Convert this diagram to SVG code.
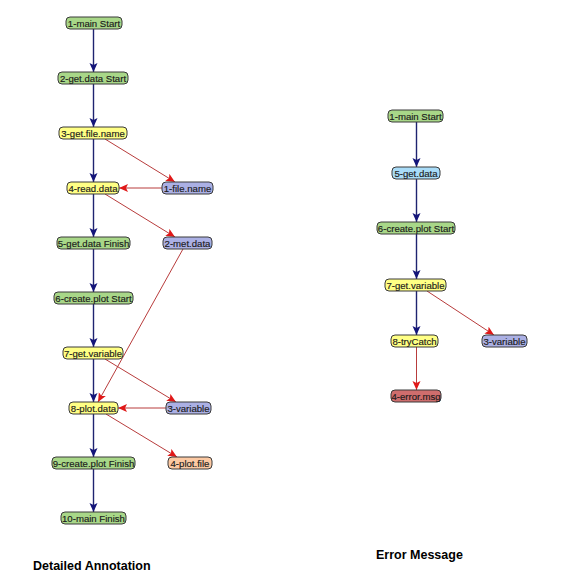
<svg xmlns="http://www.w3.org/2000/svg" width="563" height="582" viewBox="0 0 563 582">
<defs>
<marker id="ab" markerUnits="userSpaceOnUse" markerWidth="10" markerHeight="10" refX="9" refY="4.5" orient="auto">
<path d="M0,0.5 L9,4.5 L0,8.5 L2,4.5 z" fill="#14157a"/>
</marker>
<marker id="ar" markerUnits="userSpaceOnUse" markerWidth="10" markerHeight="10" refX="9" refY="4" orient="auto">
<path d="M0,0 L9,4 L0,8 L2,4 z" fill="#e01818"/>
</marker>
</defs>
<style>
.n rect{stroke:#3a3a3a;stroke-width:1}
.n text{font-family:"Liberation Sans",Arial,sans-serif;font-size:9.6px;fill:#1a1a1a;stroke:#1a1a1a;stroke-width:0.15;text-anchor:middle}
.g rect{fill:#a8d788}
.y rect{fill:#ffff84}
.b rect{fill:#abb0e4}
.lb rect{fill:#a9dcf8}
.o rect{fill:#fcc9a3}
.r rect{fill:#cf6d6d}
.eb{stroke:#1e2370;stroke-width:1.4;fill:none;marker-end:url(#ab)}
.er{stroke:#b83c3c;stroke-width:1;fill:none;marker-end:url(#ar)}
.cap{font-family:"Liberation Sans",Arial,sans-serif;font-size:12.5px;font-weight:bold;fill:#000}
</style>
<rect width="563" height="582" fill="#fff"/>
<g id="connectors">
<line class="eb" x1="93.5" y1="29" x2="93.5" y2="72"/>
<line class="eb" x1="93.5" y1="84" x2="93.5" y2="127"/>
<line class="eb" x1="93.5" y1="139" x2="93.5" y2="182"/>
<line class="eb" x1="93.5" y1="194" x2="93.5" y2="237"/>
<line class="eb" x1="93.5" y1="249" x2="93.5" y2="292"/>
<line class="eb" x1="93.5" y1="304" x2="93.5" y2="347"/>
<line class="eb" x1="93.5" y1="359" x2="93.5" y2="402"/>
<line class="eb" x1="93.5" y1="414" x2="93.5" y2="457"/>
<line class="eb" x1="93.5" y1="469" x2="93.5" y2="512"/>
<line class="er" x1="105" y1="139" x2="175" y2="182"/>
<line class="er" x1="162" y1="188" x2="119" y2="188"/>
<line class="er" x1="105" y1="194" x2="175" y2="237"/>
<line class="er" x1="183" y1="249" x2="98" y2="402"/>
<line class="er" x1="105" y1="359" x2="176" y2="402"/>
<line class="er" x1="166" y1="408" x2="118" y2="408"/>
<line class="er" x1="106" y1="414" x2="177" y2="457"/>
<line class="eb" x1="416.5" y1="122" x2="416.5" y2="167"/>
<line class="eb" x1="416.5" y1="179" x2="416.5" y2="222"/>
<line class="eb" x1="416.5" y1="234" x2="416.5" y2="279"/>
<line class="eb" x1="416.5" y1="291" x2="416.5" y2="335"/>
<line class="er" x1="427" y1="291" x2="494" y2="335"/>
<line class="er" x1="416.5" y1="347" x2="416.5" y2="390"/>
</g>
<g id="n1" class="n g"><rect x="66" y="17" width="56" height="12" rx="4"/><text x="94" y="26.6">1-main Start</text></g>
<g id="n2" class="n g"><rect x="58" y="72" width="70" height="12" rx="4"/><text x="93" y="81.6">2-get.data Start</text></g>
<g id="n3" class="n y"><rect x="59" y="127" width="68" height="12" rx="4"/><text x="93" y="136.6">3-get.file.name</text></g>
<g id="n4" class="n y"><rect x="67" y="182" width="52" height="12" rx="4"/><text x="93" y="191.6">4-read.data</text></g>
<g id="d1" class="n b"><rect x="162" y="182" width="51" height="12" rx="4"/><text x="187.5" y="191.6">1-file.name</text></g>
<g id="n5" class="n g"><rect x="57" y="237" width="73" height="12" rx="4"/><text x="93.5" y="246.6">5-get.data Finish</text></g>
<g id="d2" class="n b"><rect x="163" y="237" width="49" height="12" rx="4"/><text x="187.5" y="246.6">2-met.data</text></g>
<g id="n6" class="n g"><rect x="54" y="292" width="79" height="12" rx="4"/><text x="93.5" y="301.6">6-create.plot Start</text></g>
<g id="n7" class="n y"><rect x="63" y="347" width="60" height="12" rx="4"/><text x="93" y="356.6">7-get.variable</text></g>
<g id="n8" class="n y"><rect x="69" y="402" width="49" height="12" rx="4"/><text x="93.5" y="411.6">8-plot.data</text></g>
<g id="d3" class="n b"><rect x="166" y="402" width="45" height="12" rx="4"/><text x="188.5" y="411.6">3-variable</text></g>
<g id="n9" class="n g"><rect x="52" y="457" width="83" height="12" rx="4"/><text x="93.5" y="466.6">9-create.plot Finish</text></g>
<g id="d4" class="n o"><rect x="168" y="457" width="44" height="12" rx="4"/><text x="190" y="466.6">4-plot.file</text></g>
<g id="n10" class="n g"><rect x="61" y="512" width="65" height="12" rx="4"/><text x="93.5" y="521.6">10-main Finish</text></g>
<g id="r1" class="n g"><rect x="388" y="110" width="55" height="12" rx="4"/><text x="415.5" y="119.6">1-main Start</text></g>
<g id="r5" class="n lb"><rect x="392" y="167" width="48" height="12" rx="4"/><text x="416" y="176.6">5-get.data</text></g>
<g id="r6" class="n g"><rect x="377" y="222" width="78" height="12" rx="4"/><text x="416" y="231.6">6-create.plot Start</text></g>
<g id="r7" class="n y"><rect x="385" y="279" width="61" height="12" rx="4"/><text x="415.5" y="288.6">7-get.variable</text></g>
<g id="r8" class="n y"><rect x="391" y="335" width="47" height="12" rx="4"/><text x="414.5" y="344.6">8-tryCatch</text></g>
<g id="rd3" class="n b"><rect x="482" y="335" width="45" height="12" rx="4"/><text x="504.5" y="344.6">3-variable</text></g>
<g id="rd4" class="n r"><rect x="391" y="390" width="50" height="12" rx="4"/><text x="416" y="399.6">4-error.msg</text></g>
<text class="cap" x="33" y="570">Detailed Annotation</text>
<text class="cap" x="376" y="559" font-size="12px">Error Message</text>
</svg>
